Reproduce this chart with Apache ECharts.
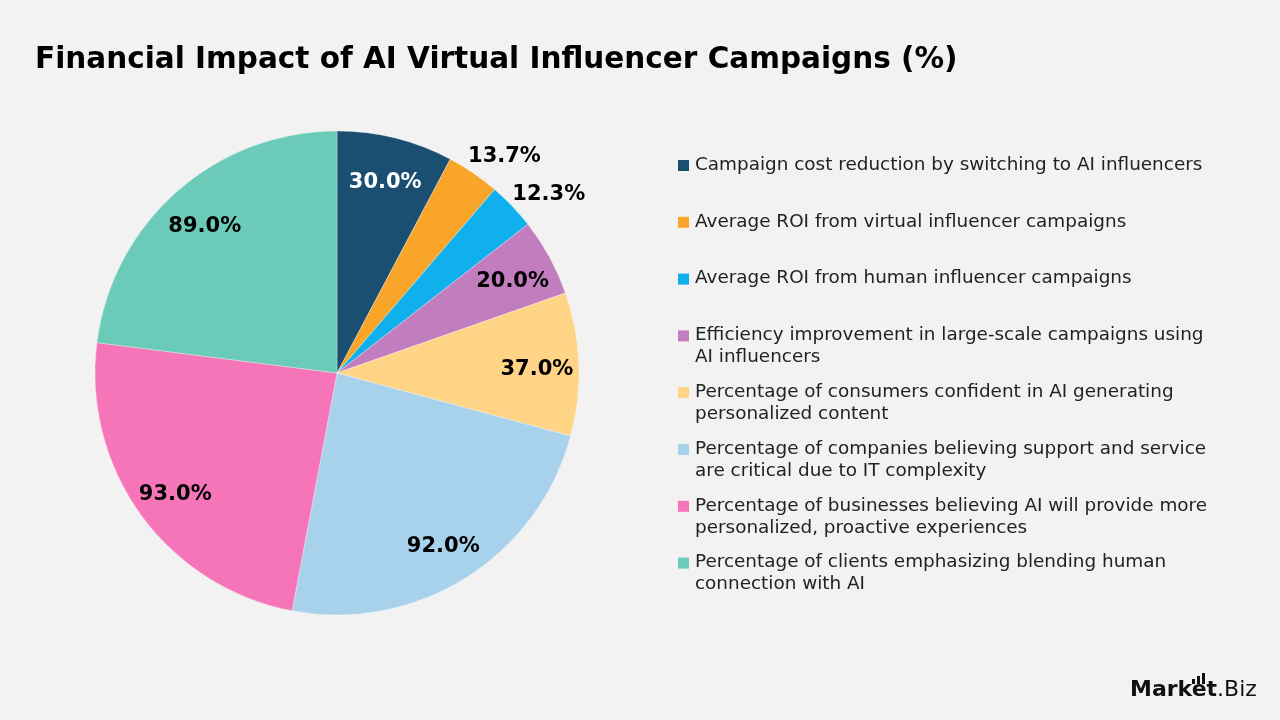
<!DOCTYPE html>
<html>
<head>
<meta charset="utf-8">
<title>Financial Impact of AI Virtual Influencer Campaigns</title>
<script src="https://cdn.jsdelivr.net/npm/echarts@6/dist/echarts.min.js"></script>
<style>
  html, body { margin: 0; padding: 0; background: #f2f2f2; }
  #chart { width: 1280px; height: 720px; }
</style>
</head>
<body>
<div id="chart"></div>
<script>
// data
const categories = [
    'Campaign cost reduction by switching to AI influencers',
    'Average ROI from virtual influencer campaigns',
    'Average ROI from human influencer campaigns',
    'Efficiency improvement in large-scale campaigns using AI influencers',
    'Percentage of consumers confident in AI generating personalized content',
    'Percentage of companies believing support and service are critical due to IT complexity',
    'Percentage of businesses believing AI will provide more personalized, proactive experiences',
    'Percentage of clients emphasizing blending human connection with AI'
];
const values = [30.0, 13.7, 12.3, 20.0, 37.0, 92.0, 93.0, 89.0];
const colors = ['#1b4f72', '#f9a52a', '#0fb0ec', '#c27dbf', '#ffd486', '#a8d1ec', '#f575b8', '#6ccbb8'];

const FONT = '"DejaVu Sans", "Noto Sans", sans-serif';
const center = [337, 373];
const R = 242;
const smallSlice = 15; // slices under this get their label outside the pie

const chart = echarts.init(document.getElementById('chart'));

const pieData = categories.map((name, i) => ({
    name,
    value: values[i],
    itemStyle: { color: colors[i] }
}));

function labelSeries(radius, showInside, shift) {
    return {
        type: 'pie',
        silent: true,
        center,
        radius,
        startAngle: 90,
        clockwise: true,
        data: categories.map((name, i) => ({
            name,
            value: values[i],
            label: { color: i === 0 ? '#ffffff' : '#000000' }
        })),
        itemStyle: { color: 'rgba(0,0,0,0)' },
        label: {
            show: true,
            position: 'inside',
            fontFamily: FONT,
            fontWeight: 'bold',
            fontSize: 21,
            formatter: p => ((p.value >= smallSlice) === showInside ? p.value.toFixed(1) + '%' : '')
        },
        labelLayout: shift,
        labelLine: { show: false },
        emphasis: { disabled: true }
    };
}

// legend drawn with graphic so the marker sits at the first text line
const legendItems = [];
categories.forEach((name, i) => {
    const y = 154 + i * 56.8;
    legendItems.push({
        type: 'rect',
        left: 678,
        top: y + 6,
        shape: { width: 11, height: 11 },
        style: { fill: colors[i] }
    });
    legendItems.push({
        type: 'text',
        left: 695,
        top: y,
        style: {
            text: name,
            width: 528,
            overflow: 'break',
            font: '18.4px ' + FONT,
            lineHeight: 22,
            fill: '#222222'
        }
    });
});

const logo = [
    {
        type: 'text', left: 1130, top: 679,
        style: {
            text: '{b|Market}{r|.Biz}',
            rich: {
                b: { font: 'bold 22px ' + FONT, fill: '#111' },
                r: { font: '22px ' + FONT, fill: '#111' }
            }
        }
    },
    { type: 'rect', left: 1192, top: 679, shape: { width: 3, height: 5 }, style: { fill: '#111' } },
    { type: 'rect', left: 1197, top: 676, shape: { width: 3, height: 8 }, style: { fill: '#111' } },
    { type: 'rect', left: 1202, top: 673, shape: { width: 3, height: 11 }, style: { fill: '#111' } }
];

const option = {
    backgroundColor: '#f2f2f2',
    animation: false,
    title: {
        text: 'Financial Impact of AI Virtual Influencer Campaigns (%)',
        left: 30,
        top: 40,
        textStyle: { fontFamily: FONT, fontWeight: 'bold', fontSize: 29.5, color: '#000' }
    },
    series: [
        {
            type: 'pie',
            center,
            radius: [0, R],
            startAngle: 90,
            clockwise: true,
            data: pieData,
            label: { show: false },
            labelLine: { show: false },
            itemStyle: { borderColor: 'rgba(255,255,255,0.6)', borderWidth: 0.5 },
            emphasis: { disabled: true }
        },
        labelSeries([152, R], true, { dy: 4 }),
        labelSeries([R + 6, R + 56], false, { dx: 12, dy: 12 })
    ],
    graphic: legendItems.concat(logo)
};

chart.setOption(option);
window.addEventListener('resize', () => chart.resize());
</script>
</body>
</html>
